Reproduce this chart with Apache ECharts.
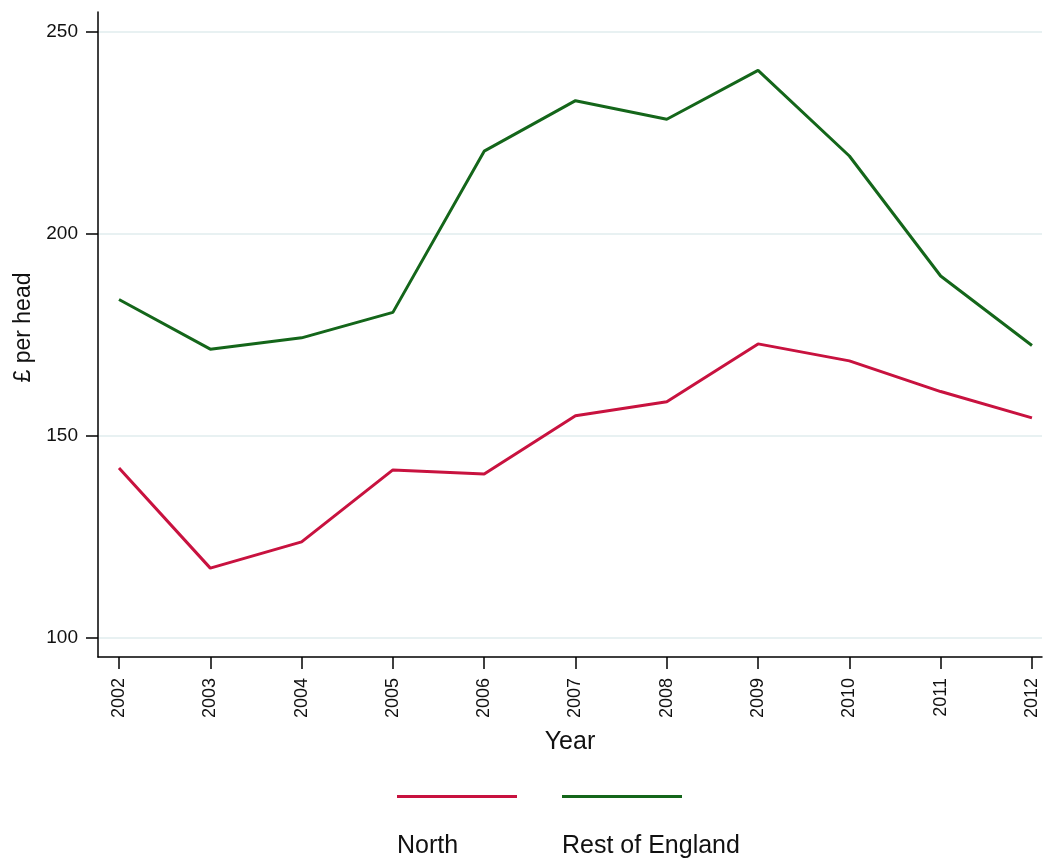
<!DOCTYPE html>
<html><head><meta charset="utf-8">
<script src="https://cdn.jsdelivr.net/npm/echarts@6/dist/echarts.min.js"></script>
<style>html,body{margin:0;padding:0;background:#fff}#c{width:1046px;height:858px}</style>
</head><body><div id="c"></div>
<script>
const years = [2002,2003,2004,2005,2006,2007,2008,2009,2010,2011,2012];
const north = [142.1,117.3,123.8,141.6,140.6,155.0,158.5,172.8,168.6,161.0,154.5];
const restOfEngland = [183.8,171.5,174.3,180.6,220.5,233.0,228.4,240.5,219.3,189.6,172.4];
const yTicks = [100,150,200,250];
const seriesNames = ['North','Rest of England'];
const colors = ['#C8123F','#14661A'];
const font = 'Liberation Sans, Arial, Helvetica, sans-serif';

const chart = echarts.init(document.getElementById('c'), null, {renderer:'canvas'});
chart.setOption({
  animation:false,
  backgroundColor:'#ffffff',
  grid:{left:98,right:4,top:12,bottom:201,containLabel:false},
  legend:{
    left:392, top:790, orient:'horizontal', itemGap:45, itemWidth:120, itemHeight:3,
    icon:'rect', formatter:()=>'', selectedMode:false,
    data:seriesNames.map(n=>({name:n}))
  },
  graphic:[
    {type:'text', left:397, top:834, style:{text:seriesNames[0], font:'25px '+font, fill:'#111'}},
    {type:'text', left:562, top:834, style:{text:seriesNames[1], font:'25px '+font, fill:'#111'}}
  ],
  xAxis:{
    type:'value', min:2001.77, max:2012.11,
    name:'Year', nameLocation:'middle', nameGap:73,
    nameTextStyle:{fontSize:25, fontFamily:font, color:'#111'},
    axisLine:{show:true, onZero:false, lineStyle:{color:'#000', width:1.5}},
    axisTick:{show:true, length:12, customValues:years, lineStyle:{color:'#000', width:1.5}},
    axisLabel:{customValues:years, rotate:90, margin:21, fontSize:18, fontFamily:font, color:'#111', formatter:v=>String(v)},
    splitLine:{show:false}
  },
  yAxis:{
    type:'value', min:95.3, max:254.95,
    name:'£ per head', nameLocation:'middle', nameGap:62, nameRotate:90,
    nameTextStyle:{fontSize:23, fontFamily:font, color:'#111', padding:[0,0,0,14]},
    axisLine:{show:true, onZero:false, lineStyle:{color:'#000', width:1.5}},
    axisTick:{show:true, length:12, customValues:yTicks, lineStyle:{color:'#000', width:1.5}},
    axisLabel:{customValues:yTicks, margin:20, fontSize:19, fontFamily:font, color:'#111'},
    splitLine:{show:true, lineStyle:{color:'#E8F1F2', width:2}}
  },
  series:[
    {name:seriesNames[0], type:'line', data:years.map((y,i)=>[y,north[i]]), symbol:'none',
     lineStyle:{color:colors[0], width:3}, itemStyle:{color:colors[0]}},
    {name:seriesNames[1], type:'line', data:years.map((y,i)=>[y,restOfEngland[i]]), symbol:'none',
     lineStyle:{color:colors[1], width:3}, itemStyle:{color:colors[1]}}
  ]
});
</script></body></html>
